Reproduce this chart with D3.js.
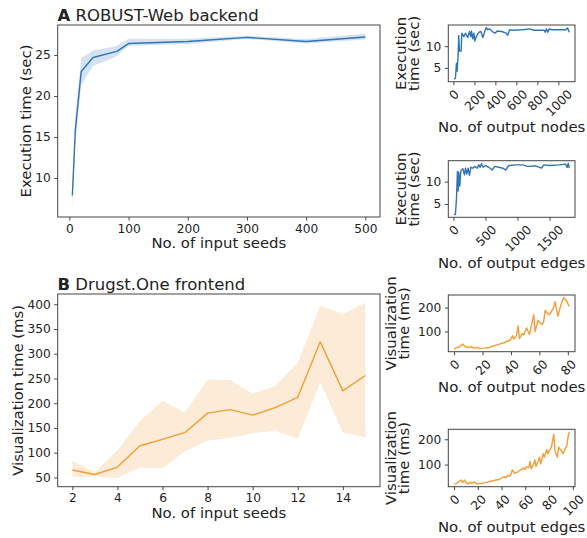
<!DOCTYPE html>
<html>
<head>
<meta charset="utf-8">
<script src="https://cdn.jsdelivr.net/npm/d3@7"></script>
<style>
  body { margin: 0; background: #fff; }
  svg { display: block; font-family: "DejaVu Sans", sans-serif; }
</style>
</head>
<body>
<svg width="587" height="538"></svg>
<script>
// A: ROBUST-Web backend, execution time vs input seeds (mean + CI band)
var seedsA = [5, 10, 20, 40, 80, 100, 200, 300, 400, 500];
var execMeanA = [7.85, 15.8, 23.0, 24.7, 25.45, 26.4, 26.65, 27.15, 26.65, 27.2];
var execLowA = [6.3, 14.2, 21.3, 23.65, 24.85, 26.1, 26.35, 26.95, 26.4, 26.9];
var execHighA = [8.8, 17.6, 24.6, 25.55, 26.1, 27.0, 27.0, 27.35, 26.95, 27.6];

// A: execution time vs output nodes / edges
var nodesA = [6, 19, 29, 35, 45, 51, 57, 73, 80, 99, 115, 137, 153, 166, 172, 185, 195, 204, 217, 242,
  262, 281, 300, 313, 326, 345, 370, 396, 418, 460, 504, 517, 536, 561, 657, 727, 759, 865, 874, 887,
  900, 913, 938, 1072, 1088, 1104];
var execNodes = [2.4, 2.6, 6.1, 4.2, 8, 12.5, 8.9, 8.9, 13, 12.2, 13, 12, 13.4, 12.2, 13.5, 11.7, 13, 11.2, 12.2, 13.2,
  13.4, 12, 13.5, 14.3, 13.8, 14, 13.4, 13, 13.5, 13.4, 13, 12.5, 13.8, 13.7, 13.8, 14, 13.7, 13.7, 13.2, 14,
  13.2, 14, 13.8, 13.8, 14.2, 13.2];
var edgesA = [10, 31, 47, 63, 73, 83, 99, 115, 146, 172, 188, 208, 229, 250, 271, 302, 333, 370, 396, 417,
  438, 464, 500, 552, 604, 646, 709, 771, 813, 865, 969, 1083, 1151, 1281, 1375, 1411, 1490, 1646, 1750, 1776,
  1792, 1807];
var execEdges = [2.6, 2.7, 6, 12.3, 7.9, 12.1, 9, 12.4, 12.9, 11.5, 13, 11.7, 13, 11.4, 13.2, 13, 13.4, 13, 13.75, 13.2,
  14, 13.2, 13.6, 13.2, 12.6, 13.4, 13.2, 13, 12.6, 13.6, 13.75, 13.75, 13.4, 13.5, 13, 13.75, 13.6, 13.75, 13.9, 13.2,
  14.1, 13];

// B: Drugst.One frontend, visualization time vs input seeds
var seedsB = [2, 3, 4, 5, 6, 7, 8, 9, 10, 11, 12, 13, 14, 15];
var visMeanB = [65, 56, 71, 114, 127, 141, 180, 187, 176, 191, 212, 324, 225, 256];
var visLowB = [51, 52, 49, 70, 68, 103, 124, 130, 139, 145, 128, 242, 141, 131];
var visHighB = [83, 61, 105, 164, 205, 181, 248, 247, 219, 235, 282, 397, 380, 403];

// B: visualization time vs output nodes / edges
var nodesB = [0, 1, 4, 6, 8, 10, 12, 14, 16, 18, 21, 25, 27, 30, 32, 34, 35, 37, 38, 40,
  41, 42, 44, 45, 46, 48, 49, 51, 52, 53, 55, 56, 57, 59, 60, 62, 63, 64, 66, 67,
  69, 70, 71, 73, 75, 77, 79, 81];
var visNodes = [26, 30, 37, 47, 36, 33, 36, 30, 33, 29, 30, 33, 38, 44, 47, 52, 51, 60, 58, 68,
  82, 68, 85, 123, 71, 92, 85, 115, 101, 88, 142, 170, 99, 147, 140, 129, 140, 188, 174, 170,
  188, 201, 225, 164, 208, 242, 229, 205];
var edgesB = [0, 2, 4, 6, 7, 9, 10, 12, 14, 15, 17, 19, 21, 24, 27, 30, 33, 35, 38, 40,
  42, 44, 45, 47, 48, 49, 51, 53, 55, 57, 58, 60, 61, 63, 64, 65, 67, 68, 69, 71,
  72, 73, 75, 76, 78, 79, 80, 82, 84, 85, 87, 88, 90, 92, 93, 95, 96, 97];
var visEdges = [23, 25, 33, 39, 29, 39, 29, 23, 31, 25, 32, 23, 25, 27, 29, 33, 36, 39, 41, 47,
  52, 49, 57, 55, 63, 79, 65, 69, 76, 81, 87, 81, 92, 89, 113, 83, 103, 119, 92, 116,
  129, 103, 143, 129, 159, 143, 153, 169, 220, 153, 129, 169, 156, 143, 156, 176, 209, 229];

// tick values
var ticksSeedsA = [0, 100, 200, 300, 400, 500];
var ticksExecA = [10, 15, 20, 25];
var ticksNodesA = [0, 200, 400, 600, 800, 1000];
var ticksEdgesA = [0, 500, 1000, 1500];
var ticksExecSmall = [5, 10];
var ticksSeedsB = [2, 4, 6, 8, 10, 12, 14];
var ticksVisB = [50, 100, 150, 200, 250, 300, 350, 400];
var ticksNodesB = [0, 20, 40, 60, 80];
var ticksEdgesB = [0, 20, 40, 60, 80, 100];
var ticksVisSmall = [100, 200];

var blue = "#2f74b4", orange = "#f29d35";
var ink = "#222", frameCol = "#444";
var tickFont = 12.2, labelFont = 14.9;

var svg = d3.select("svg");
svg.append("rect").attr("width", 587).attr("height", 538).attr("fill", "#fff");

// matplotlib-like 5% padding around the data range
function padded(vals) {
    var e = d3.extent(vals), p = (e[1] - e[0]) * 0.05;
    return [e[0] - p, e[1] + p];
}

function drawPanel(c) {
    var g = svg.append("g").attr("transform", "translate(" + c.left + "," + c.top + ")");
    var x = d3.scaleLinear().domain(padded(c.xs)).range([0, c.width]);
    var yVals = c.lows ? c.lows.concat(c.highs) : c.ys;
    var y = d3.scaleLinear().domain(padded(yVals)).range([c.height, 0]);

    if (c.lows) {
        var area = d3.area()
            .x(function(d, i) { return x(c.xs[i]); })
            .y0(function(d, i) { return y(c.lows[i]); })
            .y1(function(d, i) { return y(c.highs[i]); });
        g.append("path").datum(c.xs).attr("d", area)
            .attr("fill", c.color).attr("fill-opacity", 0.2);
    }
    var line = d3.line()
        .x(function(d, i) { return x(c.xs[i]); })
        .y(function(d) { return y(d); });
    g.append("path").datum(c.ys).attr("d", line)
        .attr("fill", "none").attr("stroke", c.color)
        .attr("stroke-width", 1.4).attr("stroke-linejoin", "round");

    g.append("rect").attr("width", c.width).attr("height", c.height)
        .attr("fill", "none").attr("stroke", frameCol).attr("stroke-width", 1);

    var xa = g.append("g").attr("transform", "translate(0," + c.height + ")")
        .call(d3.axisBottom(x).tickValues(c.xTicks).tickFormat(d3.format("d"))
            .tickSize(3.5).tickPadding(3.5));
    var ya = g.append("g")
        .call(d3.axisLeft(y).tickValues(c.yTicks).tickFormat(d3.format("d"))
            .tickSize(3.5).tickPadding(3.5));
    [xa, ya].forEach(function(a) {
        a.select(".domain").remove();
        a.selectAll(".tick line").attr("stroke", frameCol);
        a.selectAll(".tick text").attr("fill", ink)
            .attr("font-size", tickFont).attr("font-family", "DejaVu Sans");
    });

    if (c.rotate) {
        var h = tickFont * 0.73;
        xa.selectAll(".tick text")
            .attr("text-anchor", "middle").attr("dy", null).attr("y", 0)
            .attr("transform", function() {
                var L = this.getComputedTextLength();
                var dx = 0.354 * h;
                var dy = 7 + (L + h) * 0.354 + 0.354 * h;
                return "translate(" + dx + "," + dy + ") rotate(-45)";
            });
    }

    // xLabelY is the baseline offset below the frame
    g.append("text")
        .attr("x", c.width / 2).attr("y", c.height + c.xLabelY)
        .attr("text-anchor", "middle").attr("fill", ink)
        .attr("font-size", labelFont).text(c.xLabel);

    c.yLabel.forEach(function(t, i) {
        g.append("text")
            .attr("transform", "translate(" + c.yLabelX[i] + "," + c.height / 2 + ") rotate(-90)")
            .attr("text-anchor", "middle").attr("fill", ink)
            .attr("font-size", labelFont).text(t);
    });
}

function title(letter, text, yy) {
    var t = svg.append("text").attr("x", 57.5).attr("y", yy)
        .attr("fill", ink).attr("font-size", 16.5);
    t.append("tspan").attr("font-weight", "bold").text(letter);
    t.append("tspan").text(" " + text);
}

title("A", "ROBUST-Web backend", 20.5);
title("B", "Drugst.One frontend", 290);

drawPanel({ left: 57.7, top: 25, width: 322.3, height: 192,
    xs: seedsA, ys: execMeanA, lows: execLowA, highs: execHighA, color: blue,
    xTicks: ticksSeedsA, yTicks: ticksExecA,
    xLabel: "No. of input seeds", xLabelY: 31,
    yLabel: ["Execution time (sec)"], yLabelX: [-27] });

drawPanel({ left: 448.3, top: 25, width: 126.7, height: 56.7,
    xs: nodesA, ys: execNodes, color: blue,
    xTicks: ticksNodesA, yTicks: ticksExecSmall, rotate: true,
    xLabel: "No. of output nodes", xLabelY: 50,
    yLabel: ["Execution", "time (sec)"], yLabelX: [-42.5, -29.5] });

drawPanel({ left: 448.3, top: 160.7, width: 126.7, height: 56.6,
    xs: edgesA, ys: execEdges, color: blue,
    xTicks: ticksEdgesA, yTicks: ticksExecSmall, rotate: true,
    xLabel: "No. of output edges", xLabelY: 50.5,
    yLabel: ["Execution", "time (sec)"], yLabelX: [-42.5, -29.5] });

drawPanel({ left: 57.7, top: 294, width: 322.3, height: 192.7,
    xs: seedsB, ys: visMeanB, lows: visLowB, highs: visHighB, color: orange,
    xTicks: ticksSeedsB, yTicks: ticksVisB,
    xLabel: "No. of input seeds", xLabelY: 31.3,
    yLabel: ["Visualization time (ms)"], yLabelX: [-34.7] });

drawPanel({ left: 448.3, top: 295, width: 126.7, height: 56.7,
    xs: nodesB, ys: visNodes, color: orange,
    xTicks: ticksNodesB, yTicks: ticksVisSmall, rotate: true,
    xLabel: "No. of output nodes", xLabelY: 40,
    yLabel: ["Visualization", "time (ms)"], yLabelX: [-52.5, -39.5] });

drawPanel({ left: 448.3, top: 429.3, width: 126.7, height: 57.4,
    xs: edgesB, ys: visEdges, color: orange,
    xTicks: ticksEdgesB, yTicks: ticksVisSmall, rotate: true,
    xLabel: "No. of output edges", xLabelY: 45,
    yLabel: ["Visualization", "time (ms)"], yLabelX: [-52.5, -39.5] });
</script>
</body>
</html>
